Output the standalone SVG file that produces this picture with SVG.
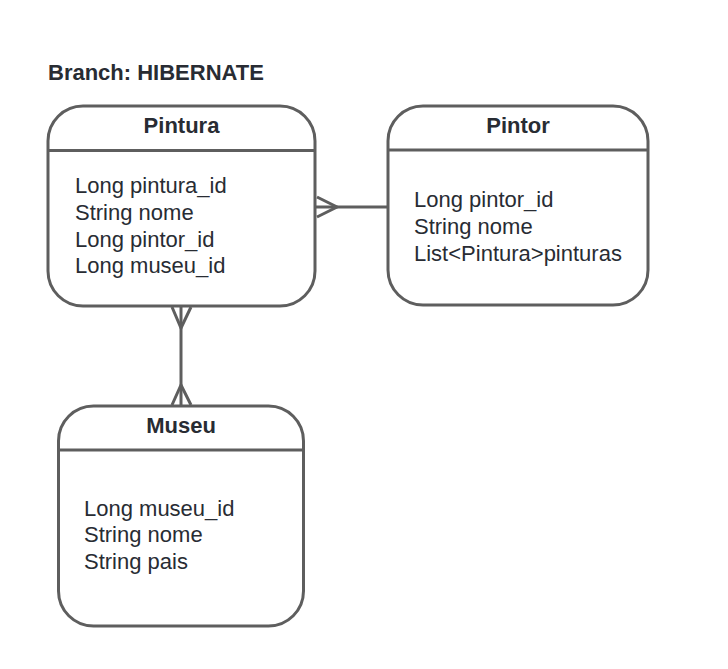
<svg xmlns="http://www.w3.org/2000/svg" width="728" height="669" viewBox="0 0 728 669">
<style>
.box{fill:#ffffff;stroke:#5e5e5e;stroke-width:3}
.ln{stroke:#5e5e5e;stroke-width:3;fill:none}
.t{font-family:"Liberation Sans",Arial,sans-serif;font-size:22px;fill:#282c33}
.b{font-family:"Liberation Sans",Arial,sans-serif;font-size:22px;font-weight:bold;fill:#282c33}
</style>
<rect width="728" height="669" fill="#ffffff"/>
<text class="b" x="48" y="80">Branch: HIBERNATE</text>
<g id="connectors">
<path class="ln" d="M315 207 H388"/>
<path class="ln" d="M317 197 L337 207 L317 217"/>
<path class="ln" d="M181 306 V406"/>
<path class="ln" d="M172 307 L181 328 L191 307"/>
<path class="ln" d="M172 405 L181 385 L191 405"/>
</g>
<g id="pintura">
<rect class="box" x="48" y="106" width="267" height="200" rx="35"/>
<path class="ln" d="M48 150.5 H315"/>
<text class="b" x="181.5" y="133" text-anchor="middle">Pintura</text>
<text class="t" x="75" y="193.3">Long pintura_id</text>
<text class="t" x="75" y="220">String nome</text>
<text class="t" x="75" y="246.7">Long pintor_id</text>
<text class="t" x="75" y="273.3">Long museu_id</text>
</g>
<g id="pintor">
<rect class="box" x="388" y="106" width="260" height="199" rx="35"/>
<path class="ln" d="M388 150 H648"/>
<text class="b" x="518" y="133" text-anchor="middle">Pintor</text>
<text class="t" x="414" y="207.3">Long pintor_id</text>
<text class="t" x="414" y="234">String nome</text>
<text class="t" x="414" y="260.7">List&lt;Pintura&gt;pinturas</text>
</g>
<g id="museu">
<rect class="box" x="58.5" y="406" width="245" height="220" rx="35"/>
<path class="ln" d="M58.5 450 H303.5"/>
<text class="b" x="181" y="432.5" text-anchor="middle">Museu</text>
<text class="t" x="84" y="515.5">Long museu_id</text>
<text class="t" x="84" y="542">String nome</text>
<text class="t" x="84" y="568.7">String pais</text>
</g>
</svg>
